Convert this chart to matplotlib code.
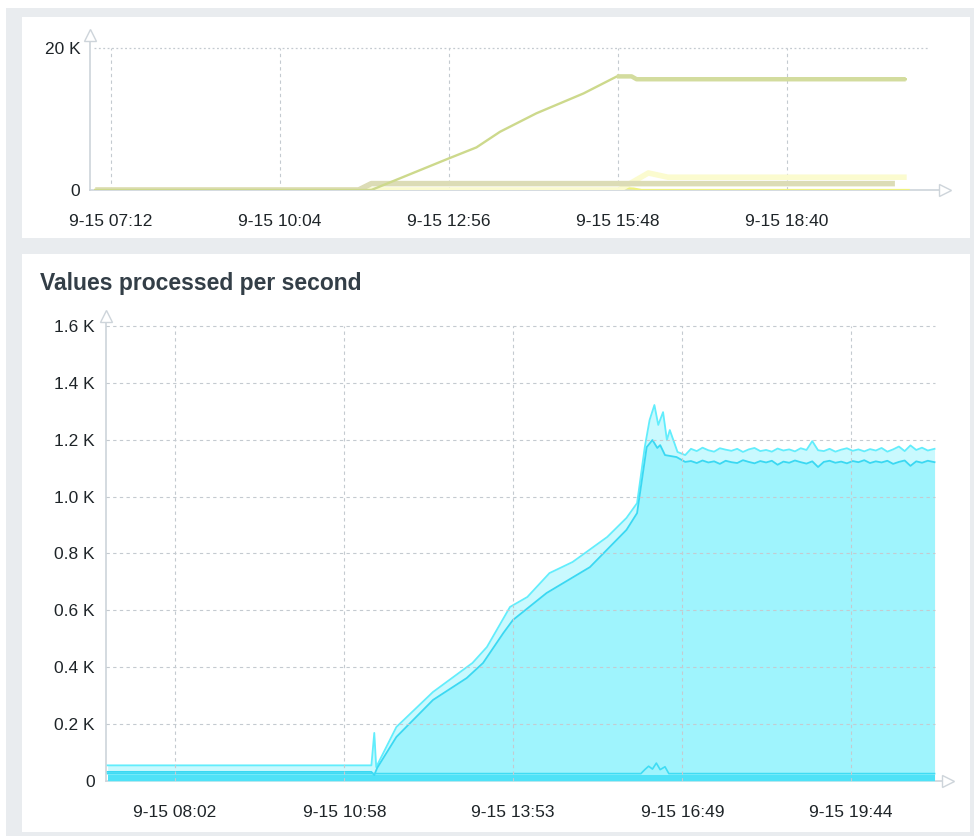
import matplotlib
matplotlib.use("Agg")
import matplotlib.pyplot as plt
from matplotlib.patches import Rectangle

W, H = 974, 836

# ---------------- data ----------------
# times are minutes since 00:00 on 9-15
top_tick_pos = [432, 604, 776, 948, 1120]
top_tick_labels = ["9-15 07:12", "9-15 10:04", "9-15 12:56", "9-15 15:48", "9-15 18:40"]
top_ytick_pos = [0, 20000]
top_ytick_labels = ["0", "20 K"]

green_t = [416, 697, 775, 804, 828, 865, 913, 947, 962, 967, 1241]
green_v = [0, 0, 4400, 6000, 8200, 10800, 13600, 16000, 16000, 15600, 15600]

khaki_t = [416, 684, 697, 1230]
khaki_v = [0, 0, 900, 900]

paleyel_t = [416, 949, 979, 999, 1242]
paleyel_v = [0, 0, 2400, 1800, 1800]

yellow_t = [416, 949, 956, 964, 972, 1244]
yellow_v = [0, 0, 250, 200, 0, 0]

bot_tick_pos = [482, 658, 833, 1009, 1184]
bot_tick_labels = ["9-15 08:02", "9-15 10:58", "9-15 13:53", "9-15 16:49", "9-15 19:44"]
bot_ytick_pos = [0, 200, 400, 600, 800, 1000, 1200, 1400, 1600]
bot_ytick_labels = ["0", "0.2 K", "0.4 K", "0.6 K", "0.8 K", "1.0 K", "1.2 K", "1.4 K", "1.6 K"]

upper_t = [412, 686, 689, 691, 712, 750, 791, 806, 830, 848, 871, 895, 931, 951, 962,
           970, 975, 980, 984, 989, 993, 996, 1004, 1012,
           1018, 1024, 1030, 1036, 1042, 1048, 1054, 1060, 1066, 1072, 1078, 1084, 1090,
           1096, 1102, 1108, 1114, 1120, 1126, 1132, 1138, 1144, 1150, 1156, 1162, 1168,
           1174, 1180, 1186, 1192, 1198, 1204, 1210, 1216, 1222, 1228, 1234, 1240, 1246,
           1252, 1258, 1264, 1271]
upper_v = [55, 55, 169, 49, 190, 313, 415, 471, 612, 647, 731, 770, 858, 925, 977,
           1174, 1269, 1322, 1252, 1297, 1199, 1234, 1157, 1146,
           1168, 1160, 1172, 1163, 1158, 1170, 1165, 1161, 1168, 1157, 1166, 1171, 1160,
           1164, 1158, 1169, 1162, 1166, 1159, 1170, 1164, 1195, 1163, 1160, 1168, 1158,
           1165, 1170, 1161, 1166, 1159, 1167, 1162, 1171, 1158, 1166, 1176, 1160, 1180,
           1164, 1172, 1162, 1168]

lower_t = [412, 686, 689, 692, 712, 750, 785, 802, 823, 833, 868, 913, 951, 962,
           972, 978, 983, 986, 991, 1003, 1012,
           1018, 1024, 1030, 1036, 1042, 1048, 1054, 1060, 1066, 1072, 1078, 1084, 1090,
           1096, 1102, 1108, 1114, 1120, 1126, 1132, 1138, 1144, 1150, 1156, 1162, 1168,
           1174, 1180, 1186, 1192, 1198, 1204, 1210, 1216, 1222, 1228, 1234, 1240, 1246,
           1252, 1258, 1264, 1271]
lower_v = [32, 32, 21, 46, 155, 285, 362, 415, 520, 566, 661, 752, 883, 942,
           1174, 1199, 1171, 1181, 1146, 1139, 1122,
           1125, 1118, 1127, 1120, 1124, 1115, 1126, 1121, 1118, 1128, 1122, 1117, 1125,
           1120, 1126, 1112, 1123, 1119, 1127, 1121, 1116, 1124, 1104, 1122, 1126, 1119,
           1123, 1117, 1125, 1121, 1128, 1118, 1124, 1120, 1126, 1115, 1122, 1127, 1108,
           1124, 1119, 1126, 1121]

base_t = [412, 966, 970, 974, 978, 982, 986, 991, 995, 1271]
base_v = [26, 26, 40, 52, 42, 63, 40, 50, 26, 26]

strip_t = [412, 1271]
strip_v = [20, 20]

# ---------------- figure ----------------
fig = plt.figure(figsize=(W / 100, H / 100), dpi=100, facecolor="white")
FONT = "Liberation Sans"


def frect(x0, y0, x1, y1, color):
    fig.add_artist(Rectangle((x0 / W, 1 - y1 / H), (x1 - x0) / W, (y1 - y0) / H,
                             transform=fig.transFigure, facecolor=color,
                             edgecolor="none", zorder=-10))


frect(6, 8, 974, 836, "#e9ecef")
frect(22, 17, 970, 238, "white")
frect(22, 254, 970, 832, "white")


def axes_px(x0, y0, x1, y1):
    return fig.add_axes([x0 / W, 1 - y1 / H, (x1 - x0) / W, (y1 - y0) / H])


AXIS_C = "#cdd4da"
GRID_C = "#c4cad0"
TXT_C = "#1e2428"


def style(ax):
    ax.set_facecolor("none")
    for s in ["top", "right"]:
        ax.spines[s].set_visible(False)
    for s in ["left", "bottom"]:
        ax.spines[s].set_color(AXIS_C)
        ax.spines[s].set_linewidth(1.2)
    ax.tick_params(length=0, labelsize=12.5, colors=TXT_C)
    for lab in ax.get_xticklabels() + ax.get_yticklabels():
        lab.set_fontfamily(FONT)
    ax.plot(1, 0, marker=">", ms=8, mfc="white", mec=AXIS_C, mew=1.0,
            transform=ax.transAxes, clip_on=False, zorder=10)
    ax.plot(0, 1, marker="^", ms=8, mfc="white", mec=AXIS_C, mew=1.0,
            transform=ax.transAxes, clip_on=False, zorder=10)


# ---- top chart ----
ax1 = axes_px(90, 35, 945, 190)
ax1.set_xlim(410.6, 1281)
ax1.set_ylim(0, 21830)
ax1.set_xticks(top_tick_pos, top_tick_labels)
ax1.set_yticks(top_ytick_pos, top_ytick_labels)
ax1.tick_params(axis="x", pad=17)
ax1.tick_params(axis="y", pad=7)
style(ax1)
for t in top_tick_pos:
    ax1.plot([t, t], [0, 20000], color=GRID_C, lw=0.8, ls=(0, (3, 3)), zorder=1)
ax1.plot([415, 1265], [20000, 20000], color=GRID_C, lw=0.9, ls=(0, (1.5, 2)), zorder=1)

ax1.plot(yellow_t, yellow_v, color="#eef27e", lw=1.6, zorder=3)
ax1.plot(paleyel_t, paleyel_v, color="#fbfbcf", lw=4, zorder=3, solid_capstyle="butt")
ax1.plot(khaki_t, khaki_v, color="#dcdcb6", lw=4, zorder=4, solid_capstyle="butt")
ax1.plot(green_t, green_v, color="#cdd98c", lw=1.7, zorder=5)
ax1.plot(green_t[-4:], green_v[-4:], color="#d3dc9e", lw=3.2, zorder=5,
         solid_capstyle="butt")

# ---- bottom chart ----
ax2 = axes_px(106, 316, 948, 781)
ax2.set_xlim(410.3, 1285)
ax2.set_ylim(0, 1635)
ax2.set_xticks(bot_tick_pos, bot_tick_labels)
ax2.set_yticks(bot_ytick_pos, bot_ytick_labels)
ax2.tick_params(axis="x", pad=17)
ax2.tick_params(axis="y", pad=8)
style(ax2)

ax2.fill_between(upper_t, upper_v, color="#c9f9fe", lw=0, zorder=2)
ax2.fill_between(lower_t, lower_v, color="#9ff4fd", lw=0, zorder=3)
ax2.fill_between(strip_t, strip_v, color="#4fe2f7", lw=0, zorder=4)
ax2.plot(upper_t, upper_v, color="#62edfc", lw=1.3, zorder=5)
ax2.plot(lower_t, lower_v, color="#3ad8f2", lw=1.3, zorder=6)
ax2.plot(base_t, base_v, color="#3fdcf4", lw=1.2, zorder=6)

for t in bot_tick_pos:
    ax2.plot([t, t], [0, 1600], color=GRID_C, lw=0.8, ls=(0, (3, 3)), zorder=8)
for v in bot_ytick_pos[1:]:
    ax2.plot([410.3, 1271], [v, v], color=GRID_C, lw=0.8, ls=(0, (3, 3)), zorder=8)

fig.text(40 / W, 1 - 283 / H, "Values processed per second", fontsize=16.5,
         fontweight="bold", family=FONT, color="#333e47", va="center", ha="left")

fig.savefig("out.png", dpi=100, facecolor=fig.get_facecolor())
